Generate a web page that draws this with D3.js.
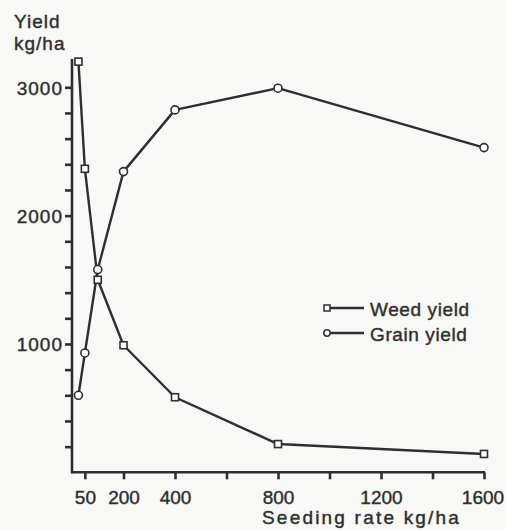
<!DOCTYPE html>
<html>
<head>
<meta charset="utf-8">
<script src="https://cdn.jsdelivr.net/npm/d3@7"></script>
<style>
  body { margin: 0; background: #f8f8f6; }
  svg { display: block; }
  text { font-family: "Liberation Sans", Arial, sans-serif; fill: #2e2e2e;
         stroke: #2e2e2e; stroke-width: 0.4px; }
</style>
</head>
<body>
<div id="chart"></div>
<script>
// seeding rates (kg/ha)
var rates = [25, 50, 100, 200, 400, 800, 1600];
var weedYield = [3200, 2365, 1500, 990, 585, 220, 143];
var grainYield = [600, 930, 1580, 2343, 2824, 2993, 2530];

var xTicks = [50, 200, 400, 600, 800, 1000, 1200, 1400, 1600];
var xLabels = [50, 200, 400, 800, 1200, 1600];
var yTicks = d3.range(200, 3001, 200);
var yLabels = [1000, 2000, 3000];

var W = 506, H = 530;
var ink = "#2e2e2e";

var svg = d3.select("#chart")
  .append("svg")
  .attr("width", W)
  .attr("height", H);

var x = d3.scaleLinear().domain([0, 1600]).range([72, 484]);
var y = d3.scaleLinear().domain([0, 3000]).range([472.3, 87.3]);

// y axis
var yAxis = svg.append("g")
  .attr("transform", "translate(" + x(0) + ",0)")
  .call(d3.axisLeft(y).tickValues(yTicks).tickSize(7)
    .tickFormat(function (d) { return yLabels.indexOf(d) >= 0 ? d : ""; }));
yAxis.select(".domain").remove();
yAxis.append("line")
  .attr("x1", 0).attr("x2", 0)
  .attr("y1", y(0) + 1).attr("y2", y(3220));

// x axis
var xAxis = svg.append("g")
  .attr("transform", "translate(0," + y(0) + ")")
  .call(d3.axisBottom(x).tickValues(xTicks).tickSize(7)
    .tickFormat(function (d) { return xLabels.indexOf(d) >= 0 ? d : ""; }));
xAxis.select(".domain").remove();
xAxis.append("line")
  .attr("x1", x(0) - 1).attr("x2", x(1600) + 1)
  .attr("y1", 0).attr("y2", 0);

svg.selectAll(".tick line, g > line")
  .attr("stroke", ink)
  .attr("stroke-width", 2.6);

svg.selectAll(".tick text")
  .style("font-size", "19px")
  .style("font-family", "'Liberation Sans', Arial, sans-serif")
  .attr("fill", ink);
yAxis.selectAll(".tick text").attr("x", -9).attr("dy", "0.36em")
  .style("letter-spacing", "1px");
xAxis.selectAll(".tick text").attr("y", 18)
  .attr("dx", function (d) { return d == 1600 ? -1.5 : 0; });

// axis titles
svg.append("text").attr("x", 14).attr("y", 28)
  .style("font-size", "19px").style("letter-spacing", "1px").text("Yield");
svg.append("text").attr("x", 14).attr("y", 50)
  .style("font-size", "19px").style("letter-spacing", "1px").text("kg/ha");
svg.append("text").attr("x", 262).attr("y", 524)
  .style("font-size", "19px").style("letter-spacing", "2.2px")
  .text("Seeding rate kg/ha");

// lines
var line = d3.line()
  .x(function (d) { return x(d[0]); })
  .y(function (d) { return y(d[1]); });

var weed = d3.zip(rates, weedYield);
var grain = d3.zip(rates, grainYield);

[weed, grain].forEach(function (s) {
  svg.append("path")
    .datum(s)
    .attr("d", line)
    .attr("fill", "none")
    .attr("stroke", ink)
    .attr("stroke-width", 2.4)
    .attr("stroke-linejoin", "round");
});

// markers
svg.selectAll(".weedPt")
  .data(weed)
  .enter().append("rect")
  .attr("class", "weedPt")
  .attr("x", function (d) { return x(d[0]) - 3.5; })
  .attr("y", function (d) { return y(d[1]) - 3.5; })
  .attr("width", 7).attr("height", 7)
  .attr("fill", "#fff").attr("stroke", ink).attr("stroke-width", 1.6);

svg.selectAll(".grainPt")
  .data(grain)
  .enter().append("circle")
  .attr("class", "grainPt")
  .attr("cx", function (d) { return x(d[0]); })
  .attr("cy", function (d) { return y(d[1]); })
  .attr("r", 4)
  .attr("fill", "#fff").attr("stroke", ink).attr("stroke-width", 1.6);

// legend
var legend = [
  { name: "Weed yield", shape: "square", y: 308 },
  { name: "Grain yield", shape: "circle", y: 333 }
];
legend.forEach(function (l) {
  svg.append("line")
    .attr("x1", 327).attr("x2", 364)
    .attr("y1", l.y).attr("y2", l.y)
    .attr("stroke", ink).attr("stroke-width", 2.4);
  if (l.shape == "square") {
    svg.append("rect")
      .attr("x", 324).attr("y", l.y - 3).attr("width", 6).attr("height", 6)
      .attr("fill", "#fff").attr("stroke", ink).attr("stroke-width", 1.5);
  } else {
    svg.append("circle")
      .attr("cx", 327).attr("cy", l.y).attr("r", 3.2)
      .attr("fill", "#fff").attr("stroke", ink).attr("stroke-width", 1.5);
  }
  svg.append("text")
    .attr("x", 370).attr("y", l.y + 7.5)
    .style("font-size", "19px").style("letter-spacing", "0.6px")
    .text(l.name);
});
</script>
</body>
</html>
